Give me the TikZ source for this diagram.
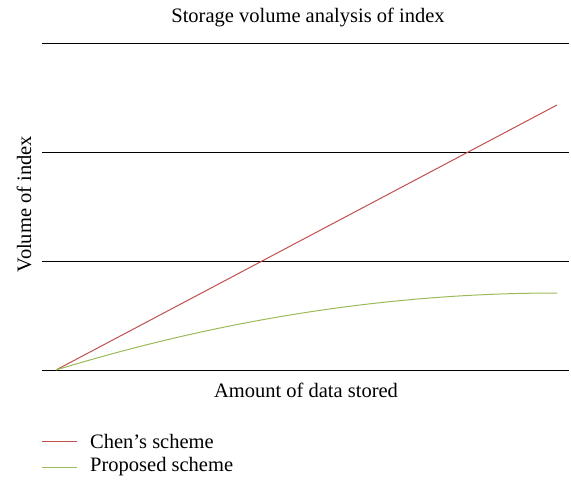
\documentclass[tikz,border=0pt]{standalone}
\usepackage{fontspec}
\setmainfont{Liberation Serif}
\definecolor{chenred}{RGB}{192,80,77}
\definecolor{propgreen}{RGB}{155,187,89}
\begin{document}
\begin{tikzpicture}[x=1pt,y=-1pt,
  gridline/.style={black,line width=0.8pt},
  series/.style={line width=1pt},
  lbl/.style={inner sep=0pt,font=\fontsize{20.5}{24}\selectfont}]
\useasboundingbox (0,0) rectangle (571,483);
% horizontal reference lines
\foreach \yy in {43,152,261,370}
  \draw[gridline] (42,\yy) -- (569,\yy);
% data series
\coordinate (o) at (56,370);
\coordinate (cend) at (557,105);
\coordinate (pend) at (557,293);
\draw[series,chenred] (o) -- (cend);
\draw[series,propgreen] (o) .. controls (223,319) and (390,293) .. (pend);
% titles and axis labels
\node[lbl] (title) at (308,17) {Storage volume analysis of index};
\node[lbl] (xlab) at (306,390) {Amount of data stored};
\node[lbl,rotate=90] (ylab) at (24,204) {Volume of index};
% legend
\coordinate (l1a) at (42,441); \coordinate (l1b) at (77,441);
\coordinate (l2a) at (42,467); \coordinate (l2b) at (77,467);
\draw[series,chenred] (l1a) -- (l1b);
\draw[series,propgreen] (l2a) -- (l2b);
\node[lbl,anchor=west] (leg1) at (90,441) {Chen’s scheme};
\node[lbl,anchor=west] (leg2) at (90,467) {Proposed scheme};
\end{tikzpicture}
\end{document}
